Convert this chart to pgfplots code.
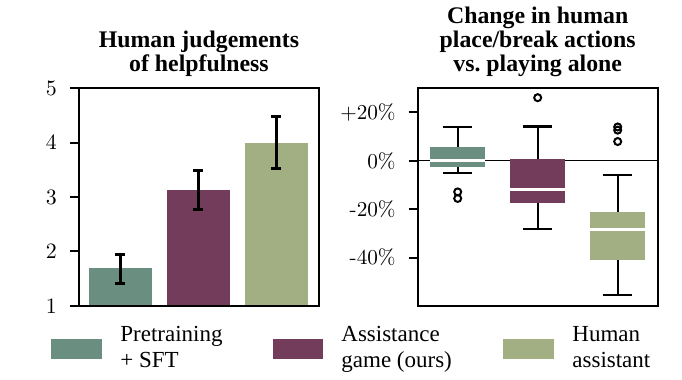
\documentclass[border=0pt]{standalone}
\usepackage{fontspec}
\setmainfont{Liberation Serif}
\newfontfamily\lmr{Latin Modern Roman}
\usepackage{pgfplots}
\pgfplotsset{compat=1.18}
\usepgfplotslibrary{statistics}
\definecolor{cA}{HTML}{6A8F80}
\definecolor{cB}{HTML}{733C5A}
\definecolor{cC}{HTML}{A1AF83}
\begin{document}
\begin{tikzpicture}
\useasboundingbox (-39.5pt,-37pt) rectangle (301.5pt,153pt);
\pgfplotsset{
 common/.style={
  scale only axis, width=120pt, height=109pt,
  axis on top,
  axis line style={line width=1pt, black},
  tick style={line width=1pt, black},
  tick align=outside, major tick length=4.5pt,
  ytick pos=left, xtick=\empty,
  tick label style={font=\fontsize{10.6}{12}\selectfont},
  yticklabel style={xshift=-3pt},
 },
 bx/.style={black, mark=o, mark size=1.75pt,
  mark options={draw=black, fill=white, line width=1pt},
  boxplot/draw direction=y,
  boxplot/every box/.style={draw=none, fill=#1},
  boxplot/every whisker/.style={draw=black, line width=1.1pt},
  boxplot/every median/.style={draw=white, line width=1.3pt}},
}
\begin{axis}[common, name=a1, at={(0pt,0pt)}, anchor=south west,
  xmin=-0.53, xmax=2.55, ymin=1, ymax=5, ytick={1,2,3,4,5},
  ybar, bar width=0.81]
\addplot[fill=cA, draw=none, bar shift=0pt,
  error bars/.cd, y dir=both, y explicit,
  error bar style={draw=black, line width=1.5pt},
  error mark options={draw=black, rotate=90, mark size=2.5pt, line width=1.5pt}]
  coordinates {(0,1.70) += (0,0.25) -= (0,0.28)};
\addplot[fill=cB, draw=none, bar shift=0pt,
  error bars/.cd, y dir=both, y explicit,
  error bar style={draw=black, line width=1.5pt},
  error mark options={draw=black, rotate=90, mark size=2.5pt, line width=1.5pt}]
  coordinates {(1,3.12) += (0,0.36) -= (0,0.35)};
\addplot[fill=cC, draw=none, bar shift=0pt,
  error bars/.cd, y dir=both, y explicit,
  error bar style={draw=black, line width=1.5pt},
  error mark options={draw=black, rotate=90, mark size=2.5pt, line width=1.5pt}]
  coordinates {(2,4.00) += (0,0.48) -= (0,0.48)};
\end{axis}

\begin{axis}[common, name=a2, at={(169.35pt,0pt)}, anchor=south west,
  xmin=-0.5, xmax=2.5, ymin=-60, ymax=30,
  ytick={-40,-20,0,20},
  yticklabels={{\lmr -40\%},{\lmr -20\%},{\lmr 0\%},{\lmr +20\%}}]
\addplot[black, line width=0.6pt, forget plot] coordinates {(-0.5,0) (2.5,0)};
\addplot[bx=cA,
  boxplot prepared={median=0, upper quartile=5.5, lower quartile=-2.8,
    upper whisker=13.8, lower whisker=-5.1, draw position=0,
    box extend=0.69, whisker extend=0.36}]
  coordinates {(0,-12.9) (0,-15.6)};
\addplot[bx=cB,
  boxplot prepared={median=-11.9, upper quartile=0.8, lower quartile=-17.6,
    upper whisker=14.1, lower whisker=-28.1, draw position=1,
    box extend=0.69, whisker extend=0.36}]
  coordinates {(1,26.0)};
\addplot[bx=cC,
  boxplot prepared={median=-28.4, upper quartile=-21.1, lower quartile=-40.9,
    upper whisker=-6.0, lower whisker=-55.6, draw position=2,
    box extend=0.69, whisker extend=0.36}]
  coordinates {(2,13.9) (2,12.6) (2,7.9)};
\end{axis}

\tikzset{ttl/.style={anchor=south, align=center, inner sep=0pt, text depth=0pt,
  font=\bfseries\fontsize{11.9}{12}\selectfont}}
\node[ttl] at ([yshift=8.25pt]a1.north) {Human judgements\\of helpfulness};
\node[ttl] at ([yshift=8.25pt]a2.north) {Change in human\\place/break actions\\vs.\ playing alone};

\tikzset{lg/.style={anchor=base west, inner sep=0pt, font=\fontsize{11.5}{13}\selectfont}}
\fill[cA] (-14pt,-16.65pt) rectangle (11.5pt,-26.35pt);
\node[lg] at (20.5pt,-18pt) {Pretraining};
\node[lg] at (20.5pt,-31pt) {+ SFT};
\fill[cB] (97pt,-16.65pt) rectangle (122pt,-26.35pt);
\node[lg] at (131pt,-18pt) {Assistance};
\node[lg] at (131pt,-31pt) {game (ours)};
\fill[cC] (212pt,-16.65pt) rectangle (237.5pt,-26.35pt);
\node[lg] at (246.5pt,-18pt) {Human};
\node[lg] at (246.5pt,-31pt) {assistant};
\end{tikzpicture}
\end{document}
